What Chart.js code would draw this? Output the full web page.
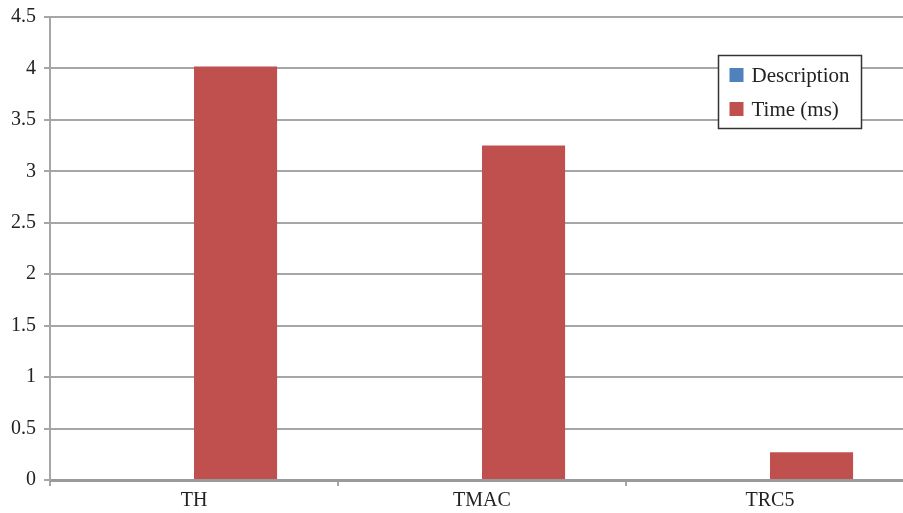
<!DOCTYPE html>
<html>
<head>
<meta charset="utf-8">
<script src="https://cdn.jsdelivr.net/npm/chart.js@4"></script>
<style>
  html, body { margin: 0; padding: 0; background: #fff; overflow: hidden; }
  #wrap { width: 903px; height: 513px; overflow: hidden; position: relative; }
  #box { width: 916px; height: 513px; position: absolute; left: 0; top: 0; }
</style>
</head>
<body>
<div id="wrap"><div id="box"><canvas id="c"></canvas></div></div>
<script>
// Categories and series
const categories = ['TH', 'TMAC', 'TRC5'];
const descriptionValues = [0, 0, 0];
const timeValues = [4.02, 3.25, 0.27];
const yTicks = [0, 0.5, 1, 1.5, 2, 2.5, 3, 3.5, 4, 4.5];

const FONT = '"Liberation Serif", "Times New Roman", serif';
const GRID = '#a6a6a6';

// Boxed legend drawn inside the plot, near the top right
const boxLegend = {
  id: 'boxLegend',
  afterDraw(chart) {
    const ctx = chart.ctx;
    const items = chart.legend.legendItems || [];
    const x = 718.5, y = 55.5, w = 143, h = 73;
    ctx.save();
    ctx.fillStyle = '#fff';
    ctx.fillRect(x, y, w, h);
    ctx.strokeStyle = '#333';
    ctx.lineWidth = 1.5;
    ctx.strokeRect(x, y, w, h);
    ctx.font = '21px ' + FONT;
    ctx.textBaseline = 'middle';
    items.forEach((it, i) => {
      const cy = y + 19.5 + i * 34;
      ctx.fillStyle = it.fillStyle;
      ctx.fillRect(x + 11, cy - 7, 14, 14);
      ctx.fillStyle = '#222';
      ctx.fillText(it.text, x + 33, cy + 1);
    });
    ctx.restore();
  }
};

new Chart(document.getElementById('c'), {
  type: 'bar',
  data: {
    labels: categories,
    datasets: [
      { label: 'Description', data: descriptionValues, backgroundColor: '#4F81BD', borderWidth: 0 },
      { label: 'Time (ms)', data: timeValues, backgroundColor: '#C0504D', borderWidth: 0 }
    ]
  },
  plugins: [boxLegend],
  options: {
    responsive: true,
    maintainAspectRatio: false,
    animation: false,
    layout: { padding: { top: 17, right: 2, left: 0, bottom: 0 } },
    plugins: {
      legend: { display: false },
      tooltip: { enabled: false }
    },
    datasets: { bar: { categoryPercentage: 0.577, barPercentage: 1 } },
    scales: {
      x: {
        grid: { drawOnChartArea: false, drawTicks: true, tickLength: 6, color: GRID, lineWidth: 2, offset: true },
        border: { color: '#9a9a9e', width: 3 },
        ticks: { color: '#222', font: { family: FONT, size: 20 }, padding: 3 },
        afterFit(s) { s.height = 33; }
      },
      y: {
        min: 0, max: 4.5,
        afterBuildTicks(s) { s.ticks = yTicks.map(v => ({ value: v })); },
        grid: { color: GRID, lineWidth: 2, drawTicks: true, tickLength: 6 },
        border: { color: GRID, width: 2 },
        ticks: { color: '#222', font: { family: FONT, size: 20 }, padding: 8,
                 callback: v => String(v) },
        afterFit(s) { s.width = 50; s.paddingTop = 0; s.paddingBottom = 0; }
      }
    }
  }
});
</script>
</body>
</html>
